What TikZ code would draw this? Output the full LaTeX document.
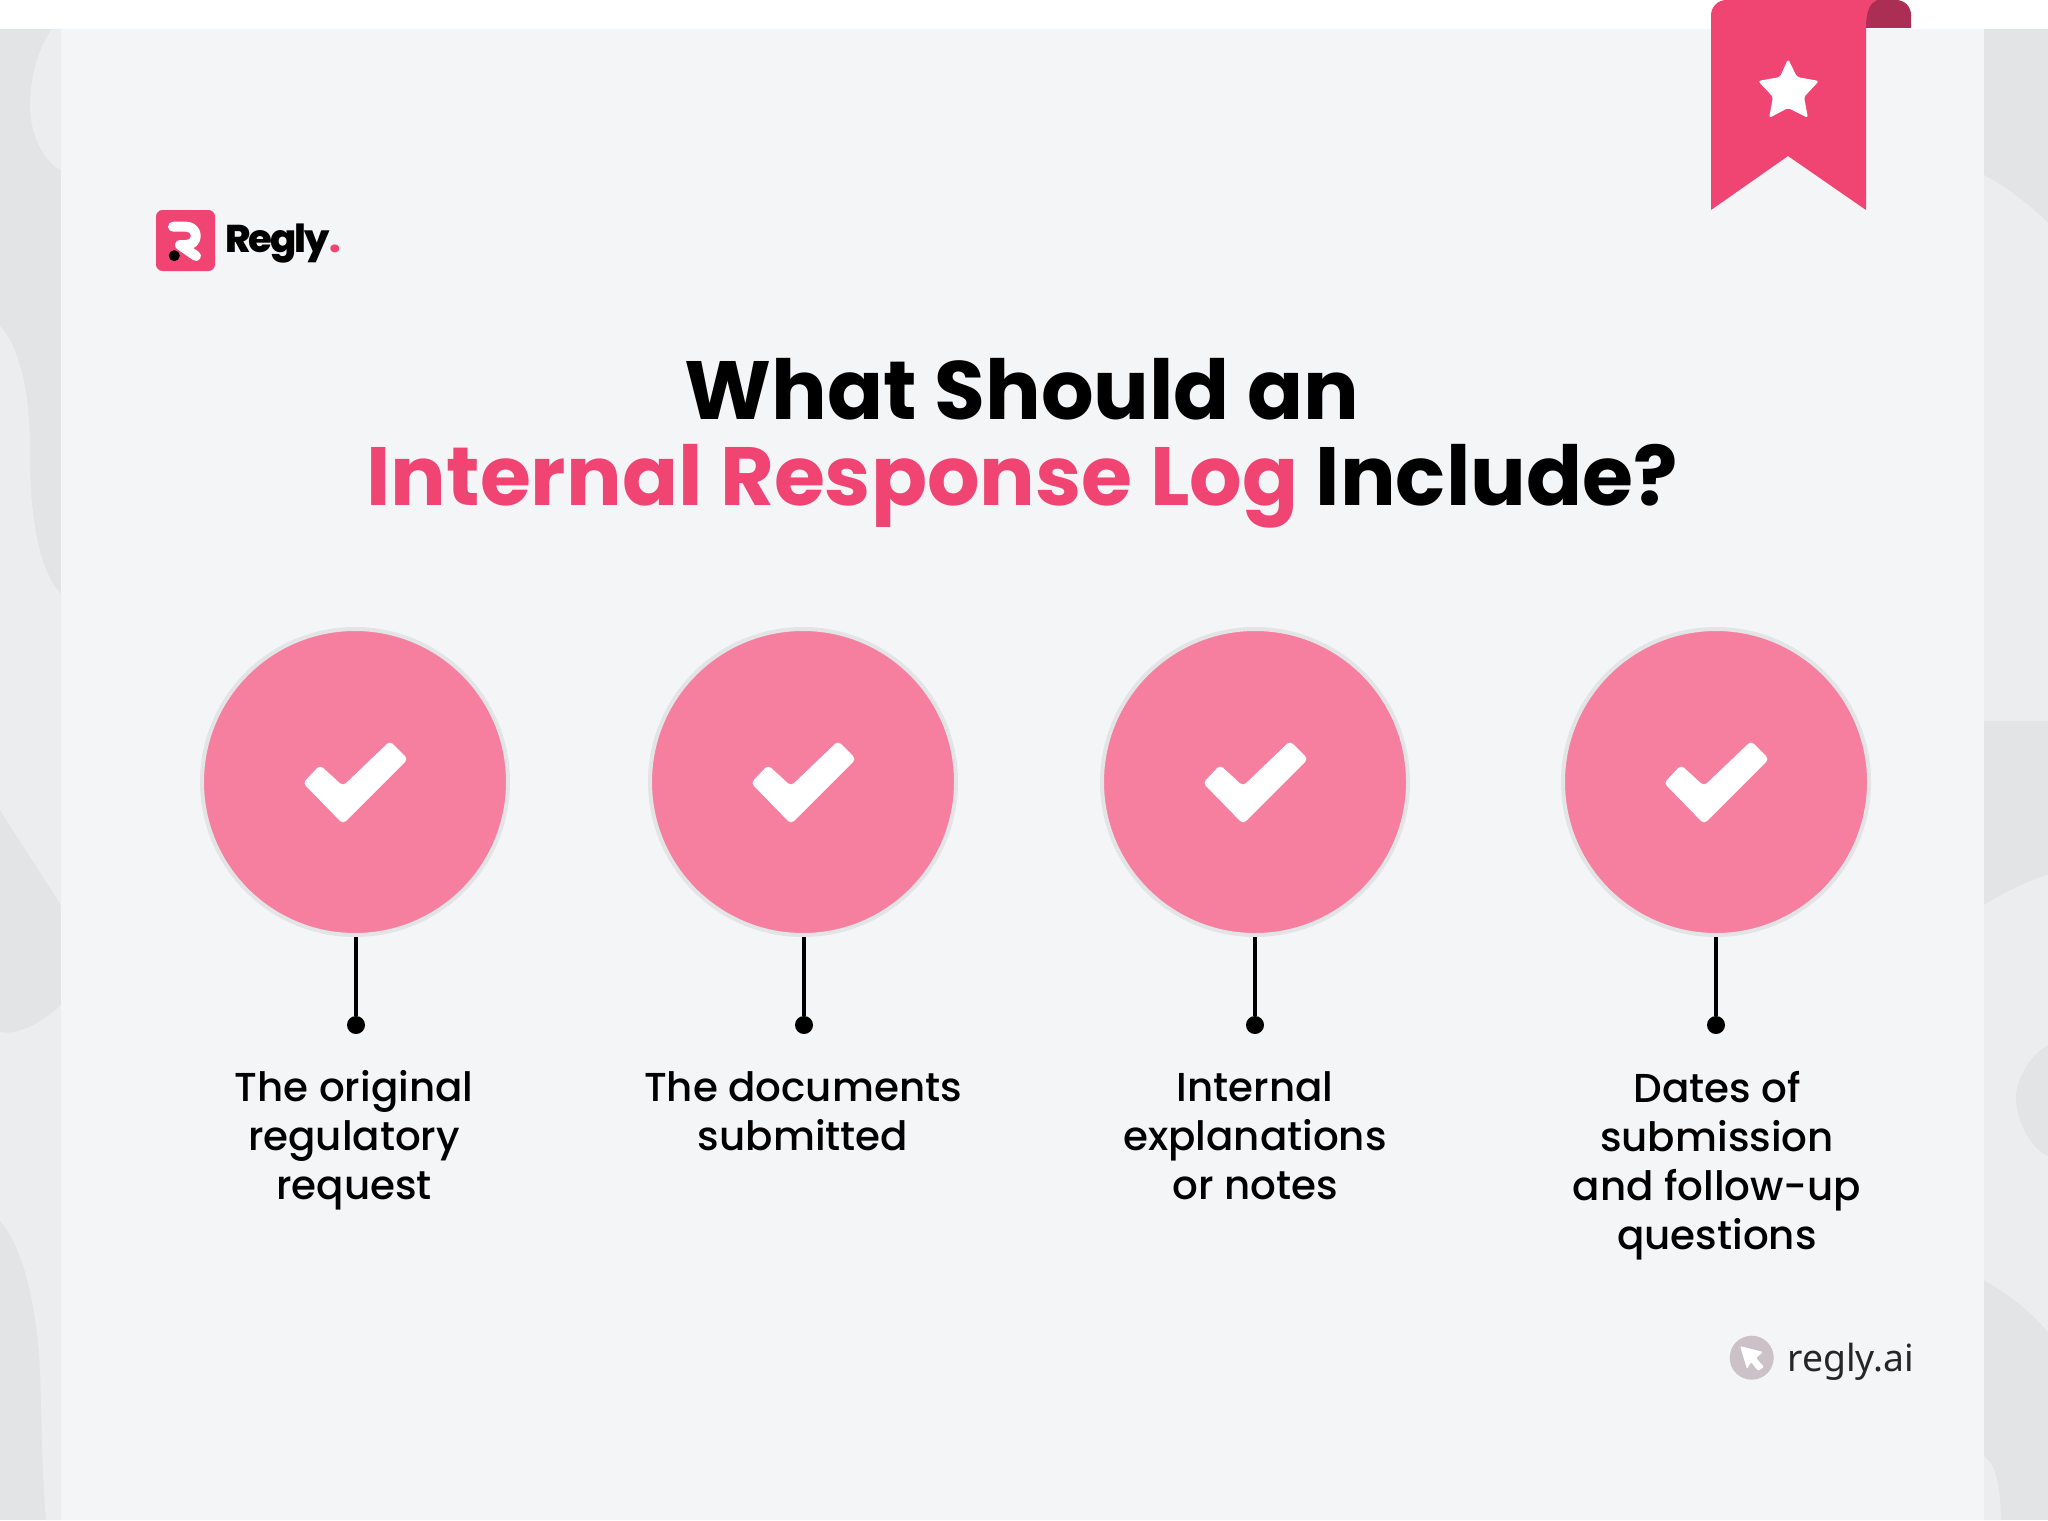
\documentclass[tikz,border=0pt]{standalone}
\usepackage{fontspec}
\setmainfont{Poppins}
\newfontfamily\bodyfont{Poppins Medium}
\newfontfamily\logofont{Poppins ExtraBold}[LetterSpace=-5.8]
\newfontfamily\footfont{Noto Sans}
\definecolor{pagepale}{HTML}{F4F5F7}
\definecolor{stripdark}{HTML}{E3E4E6}
\definecolor{striplight}{HTML}{ECEDEF}
\definecolor{reglypink}{HTML}{F04472}
\definecolor{folddark}{HTML}{AB2E54}
\definecolor{discpink}{HTML}{F67F9F}
\definecolor{cursorgrey}{HTML}{CBC1C7}
\tikzset{every picture/.style={line width=0.75pt}}
\tikzset{
  disc/.style={circle,draw=stripdark,fill=discpink,line width=3pt,minimum size=229.5pt,inner sep=0pt},
  pin/.style={circle,fill=black,minimum size=13.5pt,inner sep=0pt},
  stem/.style={black,line width=2.6pt},
  itemlabel/.style={align=center,anchor=north,font=\bodyfont\fontsize{30.3}{36.75}\selectfont},
  tickmark/.pic={\fill[white,yscale=-1,rounded corners=3] (-52,1) -- (-35,-17) -- (-12,4) -- (35,-41) -- (53,-23) -- (-12,42) -- cycle;}
}

\begin{document}
\begin{tikzpicture}[x=0.75pt,y=0.75pt,yscale=-1,xscale=1]
\useasboundingbox (0,0) rectangle (2048,1520);

%Background
\fill[white] (0,0) rectangle (2048,1520);
\fill[pagepale] (61,29) rectangle (1984,1520);

%Left strip
\fill[stripdark] (0,29) rectangle (61,1520);
\fill[striplight] (52,29) .. controls (40,45) and (30,75) .. (30,105) .. controls (30,140) and (48,165) .. (61,170) -- (61,29) -- cycle;
\fill[striplight] (0,326) .. controls (18,345) and (31,390) .. (30,457) .. controls (30,520) and (40,572) .. (61,594) -- (61,905) -- (0,810) -- cycle;
\fill[striplight] (0,1032) .. controls (20,1036) and (45,1020) .. (61,1005) -- (61,1520) -- (46,1520) .. controls (42,1480) and (42,1420) .. (40,1370) .. controls (36,1290) and (18,1240) .. (0,1221) -- cycle;

%Right strip
\fill[stripdark] (1984,29) rectangle (2048,1520);
\fill[striplight] (1984,175) .. controls (2005,186) and (2030,205) .. (2048,223) -- (2048,721) -- (1984,721) -- cycle;
\fill[striplight] (1984,905) .. controls (2005,892) and (2030,880) .. (2048,875) -- (2048,1332) .. controls (2030,1310) and (2005,1292) .. (1984,1280) -- cycle;
\fill[stripdark] (2048,1045) .. controls (2030,1055) and (2016,1080) .. (2016,1097) .. controls (2016,1120) and (2030,1148) .. (2048,1156) -- cycle;
\fill[striplight] (1984,1456) .. controls (1995,1465) and (2000,1480) .. (2001,1520) -- (1984,1520) -- cycle;

%Ribbon
\fill[folddark] (1860,28) -- (1860,0) -- (1896,0) .. controls (1905,0) and (1911,7) .. (1911,15) -- (1911,28) -- cycle;
\fill[reglypink] (1711,210) -- (1711,15) .. controls (1711,7) and (1718,0) .. (1726,0) -- (1877,0) .. controls (1870,3) and (1866,10) .. (1866,28) -- (1866,210) -- (1788,156) -- cycle;
\fill[white,rounded corners=2] (1788,59) -- (1797,77) -- (1819,81) -- (1804,97) -- (1808,118) -- (1788,108) -- (1769,118) -- (1773,97) -- (1758,81) -- (1780,77) -- cycle;

%Logo
\fill[reglypink,rounded corners=5] (156,210) rectangle (215,271);
\draw[white,line width=7.5pt,line cap=round,line join=round] (173,226.7) -- (186,226.7) .. controls (199,226.7) and (199,245) .. (186,245) -- (180,245) -- (196,256);
\fill[black] (174.3,255.7) circle [radius=5.5];
\node (logotext) at (225,252) [anchor=base west,inner sep=0pt,font=\logofont\fontsize{29}{29}\selectfont,black] {Regly\textcolor{reglypink}{.}};

% Text Node
\node (titletext) at (1022,443) [align=center,font=\bfseries\fontsize{62}{64.5}\selectfont,black] {What Should an\\\textcolor{reglypink}{Internal Response Log} Include?};

%Circles
\node[disc] (disc1) at (355,782) {};
\node[disc] (disc2) at (803,782) {};
\node[disc] (disc3) at (1255,782) {};
\node[disc] (disc4) at (1716,782) {};
\path (disc1) pic {tickmark};
\path (disc2) pic {tickmark};
\path (disc3) pic {tickmark};
\path (disc4) pic {tickmark};

%Pins
\node[pin] (pin1) at (356,1025) {};
\node[pin] (pin2) at (804,1025) {};
\node[pin] (pin3) at (1255,1025) {};
\node[pin] (pin4) at (1716,1025) {};
\draw[stem] (disc1.south -| pin1) -- (pin1);
\draw[stem] (disc2.south -| pin2) -- (pin2);
\draw[stem] (disc3.south -| pin3) -- (pin3);
\draw[stem] (disc4.south -| pin4) -- (pin4);

% Text Node
\node[itemlabel] (label1) at (354,1065) {The original\\regulatory\\request};
\node[itemlabel] (label2) at (803,1067) {The documents\\submitted};
\node[itemlabel] (label3) at (1255,1067) {Internal\\explanations\\or notes};
\node[itemlabel] (label4) at (1717,1066) {Dates of\\submission\\and follow-up\\questions};

%Site mark
\fill[cursorgrey] (1751.7,1357.7) circle [radius=22];
\fill[white,rounded corners=1] (1740,1346) -- (1763,1352) -- (1756,1358) -- (1764,1367) -- (1758,1371) -- (1751,1362) -- (1747,1369) -- cycle;
\node (sitetext) at (1787,1371) [anchor=base west,inner sep=0pt,font=\footfont\fontsize{28}{28}\selectfont,text=black!85] {regly.ai};
\end{tikzpicture}
\end{document}
